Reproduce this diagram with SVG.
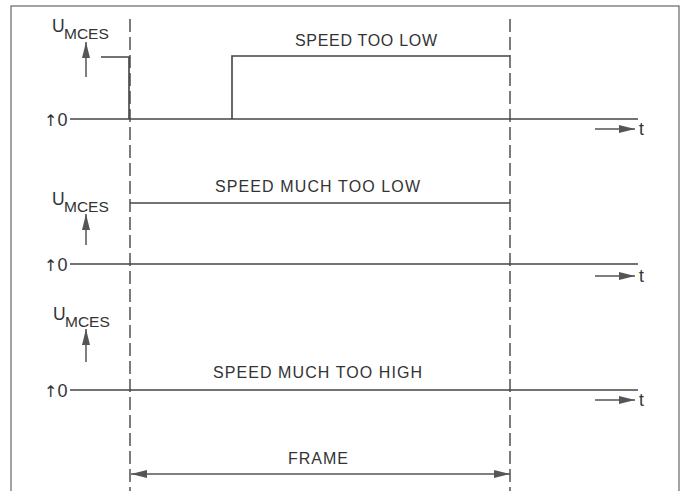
<svg xmlns="http://www.w3.org/2000/svg" width="683" height="491" viewBox="0 0 683 491">
<style>
text{font-family:"Liberation Sans",Arial,sans-serif;fill:#333}
.lbl{font-size:16px}
.u{font-size:17.5px}
.sub{font-size:15.5px}
.zero{font-size:18px}
.arr{font-family:"DejaVu Sans",sans-serif;font-size:16px}
.sig{fill:none;stroke:#444;stroke-width:1.6}
.dash{fill:none;stroke:#444;stroke-width:1.4;stroke-dasharray:13 5}
.ax{fill:none;stroke:#555;stroke-width:1.5}
</style>
<defs>
<marker id="ah" viewBox="0 0 16 9" refX="16" refY="4.5" markerWidth="16" markerHeight="9" markerUnits="userSpaceOnUse" orient="auto">
<path d="M0,0.5 L16,4.5 L0,8.5 Z" fill="#555"/>
</marker>
<marker id="ahs" viewBox="0 0 16 9" refX="0" refY="4.5" markerWidth="16" markerHeight="9" markerUnits="userSpaceOnUse" orient="auto">
<path d="M16,0.5 L0,4.5 L16,8.5 Z" fill="#555"/>
</marker>
</defs>
<rect x="11" y="6" width="668" height="500" fill="none" stroke="#666" stroke-width="1.2"/>
<g id="connectors">
<line class="dash" x1="130" y1="19" x2="130" y2="491"/>
<line class="dash" x1="510" y1="19" x2="510" y2="491"/>
<line class="ax" x1="131" y1="474" x2="510" y2="474" marker-start="url(#ahs)" marker-end="url(#ah)"/>
</g>
<g id="panel1">
<text x="52" y="32" class="u">U</text><text x="64" y="39" class="sub">MCES</text>
<line class="ax" x1="86" y1="77" x2="86" y2="42" marker-end="url(#ah)"/>
<text x="44" y="126"><tspan class="arr">↑</tspan><tspan class="zero">0</tspan></text>
<line class="sig" x1="70" y1="119" x2="638" y2="119"/>
<polyline class="sig" points="101,57 129,57 129,119"/>
<polyline class="sig" points="232,119 232,56 510,56"/>
<text x="366" y="46" class="lbl" text-anchor="middle" textLength="142" lengthAdjust="spacing">SPEED TOO LOW</text>
<line class="ax" x1="595" y1="129" x2="635" y2="129" marker-end="url(#ah)"/>
<text x="639" y="135" class="u">t</text>
</g>
<g id="panel2">
<text x="52" y="205" class="u">U</text><text x="64" y="212" class="sub">MCES</text>
<line class="ax" x1="86" y1="245" x2="86" y2="214" marker-end="url(#ah)"/>
<text x="44" y="271"><tspan class="arr">↑</tspan><tspan class="zero">0</tspan></text>
<line class="sig" x1="70" y1="264" x2="638" y2="264"/>
<line class="sig" x1="130" y1="203" x2="510" y2="203"/>
<text x="317.5" y="192" class="lbl" text-anchor="middle" textLength="205" lengthAdjust="spacing">SPEED MUCH TOO LOW</text>
<line class="ax" x1="595" y1="276" x2="635" y2="276" marker-end="url(#ah)"/>
<text x="639" y="282" class="u">t</text>
</g>
<g id="panel3">
<text x="53" y="320" class="u">U</text><text x="65" y="327" class="sub">MCES</text>
<line class="ax" x1="86" y1="362" x2="86" y2="329" marker-end="url(#ah)"/>
<text x="44" y="397"><tspan class="arr">↑</tspan><tspan class="zero">0</tspan></text>
<line class="sig" x1="70" y1="390" x2="638" y2="390"/>
<text x="317.5" y="378" class="lbl" text-anchor="middle" textLength="209" lengthAdjust="spacing">SPEED MUCH TOO HIGH</text>
<line class="ax" x1="595" y1="400" x2="635" y2="400" marker-end="url(#ah)"/>
<text x="639" y="406" class="u">t</text>
</g>
<g id="frame">
<text x="318" y="464" class="lbl" text-anchor="middle" textLength="60" lengthAdjust="spacing">FRAME</text>
</g>
</svg>
